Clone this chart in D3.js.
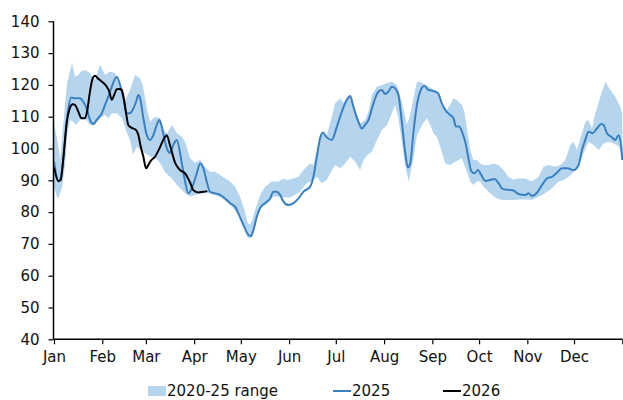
<!DOCTYPE html>
<html>
<head>
<meta charset="utf-8">
<script src="https://cdn.jsdelivr.net/npm/d3@7"></script>
<style>
  html, body { margin: 0; padding: 0; background: #fff; }
  svg { display: block; font-family: "DejaVu Sans", Verdana, sans-serif; }
</style>
</head>
<body>
<svg id="chart" width="623" height="400"></svg>
<script>
// ---- data (day of year, value) ----
const monthStarts = [0, 31, 59, 90, 120, 151, 181, 212, 243, 273, 304, 334, 365];
const monthLabels = ["Jan","Feb","Mar","Apr","May","Jun","Jul","Aug","Sep","Oct","Nov","Dec",""];
const yTicks = [40, 50, 60, 70, 80, 90, 100, 110, 120, 130, 140];

const rangeUpper = [[0,108],[2,103],[4,96.5],[5.8,106.8],[8.4,120.6],[11.6,126.8],[13.5,122.6],[15.4,123],[18,124.5],[20.6,124.5],[23.1,123.6],[26.3,121.6],[29.6,126.3],[32.8,123.1],[36,124.2],[39.2,123.7],[42.4,119.4],[45.6,115.2],[48.8,118.4],[52,123.1],[55.3,122.1],[57.2,119.4],[59.8,112.1],[61.7,108.4],[64.9,110],[68.1,109.5],[70.7,105.5],[72.6,104.8],[75.8,107.4],[79,104.8],[82.1,103.7],[84.2,102.1],[87.4,97],[90.6,95.5],[93.8,96.5],[96.9,94.3],[100.2,92.7],[103.5,92.7],[106.7,91.7],[109.9,90.6],[113.1,89.6],[116.3,88],[119.5,84.8],[122.3,80.7],[124.5,76.5],[125.9,76],[127.4,77.5],[129.2,80.7],[132.4,85.4],[135.6,88],[139.9,89.6],[144.1,89.6],[147.4,90.6],[149.5,90.1],[153.8,90.6],[157,91.1],[160.2,93.2],[164.5,95.3],[166.6,94.8],[168.8,99.5],[172,104.8],[175.2,104.2],[178.4,110],[180.6,114.2],[183.8,115.8],[185.9,114.2],[188.1,115.8],[190.2,116.8],[193.4,112.1],[196.6,107.9],[199.8,109],[202,111.6],[204.2,116.8],[207.4,119.4],[210.6,120],[213.8,120.5],[217,121],[220.2,120],[223.4,114.7],[226.6,107.4],[228.8,110.5],[230.9,115.8],[233.1,121],[235.2,121],[238.4,120],[242.7,118.9],[245.9,117.4],[249.1,114.2],[252.3,112.1],[254.5,113.7],[256.6,115.8],[258.8,115.2],[262,113.7],[263.6,111.6],[265.2,106.3],[267.3,99.5],[269.4,96.4],[271.6,96.4],[273.7,95.3],[275.9,94.8],[279.1,94.8],[282.3,95.3],[285.5,94.8],[288.7,93.2],[291.9,91.1],[295.1,90.2],[298.3,90.6],[302.7,90.6],[307,89.6],[311.2,91.1],[314.4,94.3],[317.6,94.8],[321.9,94.3],[325.2,94.8],[328.4,96.4],[331.6,101.1],[333.7,102.1],[335.9,99.5],[339.1,104.8],[341.2,108.4],[343.3,109],[345.5,106.3],[347.6,111.1],[350.9,116.3],[354.1,121],[357.3,118.4],[360.5,116.3],[363.7,113.1],[365,111.1]];

const rangeLower = [[0,88],[2,84.5],[2.6,84.3],[5.1,87.5],[7.1,94.8],[8.4,104.2],[10.3,109],[12.2,108.5],[14.1,107.4],[16.7,109],[19.9,109.5],[23.1,107.4],[26.3,107.4],[29.6,109.5],[32.8,110.5],[34.7,109.5],[37.3,111.1],[40.5,111.1],[43.7,109.5],[46.9,104.8],[48.8,102.7],[50.8,98],[53.3,100.6],[55.3,99.5],[58.5,98.5],[61.7,97.5],[64.9,97],[68.1,95.5],[71.3,92.5],[75.6,90.6],[79.9,88],[84.2,85.9],[87.4,84.8],[90.6,85.4],[94.9,85.9],[99.2,85.9],[103.5,85.4],[107.8,84.3],[112,82.8],[115.2,81.2],[118.4,79.1],[121.6,75.4],[124.5,71.8],[126.6,71.8],[129.2,75.4],[131.3,80.1],[133.5,81.7],[137.7,83.3],[140.9,84.8],[145.2,84.8],[151.7,84.5],[158.1,86.5],[162.4,89.1],[166.6,90.1],[168.8,91.1],[172,89.1],[175.2,90.1],[177.4,92.2],[180.6,94.8],[183.8,93.8],[187,95.3],[190.2,97.4],[193.4,95.8],[196.6,93.2],[198.8,96.4],[201.3,98],[204.2,99],[207.4,102.7],[210.6,105.8],[213.8,107.4],[217,111.1],[219.1,113.7],[221.2,109.5],[223.4,102.1],[225.5,94.8],[227.8,89.6],[230.9,96.9],[233.1,104.2],[236.3,107.4],[239.5,109.5],[241.6,107.4],[243.7,104.8],[245.9,103.7],[248,100.6],[251.3,95.3],[254.5,94.8],[257.7,95.8],[262,96.9],[265.2,92.7],[267.3,89.6],[269.4,88.5],[271.6,89.6],[273.7,89.6],[275.9,88],[279.1,86.4],[281.3,85.4],[284.5,84.3],[287.7,83.8],[291.9,83.8],[295.1,83.8],[298.3,84],[302.7,84],[307,83.8],[311.2,84.8],[315.5,85.9],[319.8,87.5],[324.1,89.6],[327.3,90.1],[330.5,91.1],[333.7,92.5],[336.9,94.3],[340.1,98.5],[343.3,102.1],[346.5,101.1],[349.8,99.5],[353,101.6],[356.3,102.1],[359.5,101.6],[362.7,100.6],[365,96.4]];

const series2025 = [[0,95.9],[3,89.6],[5,92.7],[7,102.1],[9,111.6],[11,116.0],[13.5,115.8],[16.7,115.8],[18.8,114.7],[21,112.6],[23.1,109.0],[25.3,107.7],[27.4,109],[30.7,111.1],[32.8,113.7],[34.9,116.3],[37.1,119.4],[40.3,122.6],[42.4,120],[44.5,115.8],[46.7,111.1],[48.8,111.1],[51,112.6],[52.7,114.7],[54.2,116.8],[55.3,115.8],[57.4,109.5],[59.6,104.2],[61.7,102.7],[63.8,104.2],[66,107.4],[67.7,109],[69.2,106.9],[71.3,102.1],[73.4,99],[74.5,98.6],[76.5,101],[78.8,102.7],[82.1,95.3],[84.2,89.6],[86.3,85.9],[88.5,87.5],[91.7,92.2],[93.8,95.3],[95.9,93.8],[98.1,89.6],[100.2,86.4],[103.5,85.9],[106.7,85.4],[109.9,84.3],[113.1,82.8],[116.3,81.7],[118.4,79.6],[121.6,76],[124.9,72.8],[126.6,72.5],[128.1,74.4],[130.3,78.6],[132.4,81.3],[135.6,82.8],[138.8,84.3],[140.9,86.4],[143.1,86.4],[145.2,85.4],[147.4,83.3],[150.6,82.2],[153.8,82.8],[157,84.3],[160.2,86.4],[164.5,88.0],[166.6,91.1],[168.8,97.4],[170.9,103.2],[172.7,105],[175.2,103.5],[178.4,102.7],[181.7,106.9],[184.9,111.6],[188.1,115.3],[190.2,116.5],[192.3,113.1],[195.5,108.4],[197.7,106.3],[199.8,107.4],[202,109],[204.2,112.6],[206.3,115.8],[208.4,117.9],[210.6,118.4],[212.7,117.1],[214.8,117.9],[217,119.4],[219.1,118.9],[221.2,116.8],[223.4,108.4],[225.5,99],[227.3,94],[228.8,95.3],[230.9,105.3],[233.1,113.7],[235.2,117.9],[238,119.7],[240.5,118.4],[243.7,118.1],[246.6,117.4],[249.1,114.2],[251.3,112.1],[254.5,110.5],[256.6,109.5],[258.1,106.9],[260.2,106.9],[262,105.3],[264.1,102.1],[266.2,96.9],[268,92.9],[270.1,92.2],[272.3,93.2],[274.4,91.7],[277,89.8],[280.2,90.1],[282.9,90.4],[285.5,89.1],[288.1,87.3],[291.9,87],[295.1,86.8],[298.3,85.7],[302.7,85.4],[304.8,85.9],[307,85.1],[310.2,86.1],[313.4,88.5],[316.6,90.6],[319.8,91.1],[323,92.4],[326.2,93.8],[329.5,93.8],[333.7,93.2],[336.9,94.8],[339.1,99.5],[341.2,102.7],[343.3,105.3],[345.9,104.8],[348.7,106.3],[351.5,107.7],[353,107.4],[355.1,104.8],[357.9,103.7],[360.5,102.7],[362.6,104.2],[364.3,100.6],[365,96.4]];

const series2026 = [[0,94],[2.8,89.8],[4.3,90.1],[6,96.9],[8.2,108.4],[9.8,112.1],[12,113.9],[13.5,113.7],[15.6,111.6],[17.8,109.5],[19.9,109.5],[21.4,112.1],[23.1,117.9],[24.9,122.1],[26.3,122.9],[28.5,121.9],[31.3,120.8],[33.9,119.4],[35.5,117.9],[37.1,115.3],[38.6,116.8],[40.3,118.6],[42.4,118.7],[43.5,118.4],[45,115.3],[46.3,111.1],[47.7,107.4],[49.9,106.5],[52.7,105.8],[54.2,104.2],[55.7,100.6],[57.4,97.4],[59.1,93.8],[60.6,94.8],[62.1,96.1],[64.9,97.4],[67.7,100],[70.2,102.7],[72.4,104.2],[74.5,101],[77.8,95.5],[81,93.2],[84.2,92.2],[87.4,89.3],[89.5,86.9],[92.7,86.2],[95.9,86.4],[98.5,86.6]];

const legendLabels = ["2020-25 range", "2025", "2026"];

// ---- layout ----
(function () {
const svg = d3.select("#chart");
const plotLeft = 53.5, plotRight = 622.3, plotTop = 21.3, plotBottom = 339.3;
const x = d3.scaleLinear().domain([0, 365]).range([54, plotRight]);
const y = d3.scaleLinear().domain([40, 140]).range([plotBottom, plotTop]);

const bandColor = "#b5d5ef";
const lineColor = "#3a80c0";

const line = d3.line().x(d => x(d[0])).y(d => y(d[1]));

// range band as closed polygon
svg.append("path")
  .attr("d", line(rangeUpper.concat(rangeLower.slice().reverse())) + "Z")
  .attr("fill", bandColor)
  .attr("stroke", "none");

svg.append("path")
  .attr("d", d3.line().x(d => x(d[0])).y(d => y(d[1])).curve(d3.curveMonotoneX)(series2025))
  .attr("fill", "none").attr("stroke", lineColor).attr("stroke-width", 2)
  .attr("stroke-linejoin", "round");

svg.append("path")
  .attr("d", d3.line().x(d => x(d[0])).y(d => y(d[1])).curve(d3.curveMonotoneX)(series2026))
  .attr("fill", "none").attr("stroke", "#000").attr("stroke-width", 2)
  .attr("stroke-linejoin", "round");

// axes
const yAxis = svg.append("g")
  .attr("transform", `translate(${plotLeft},0)`)
  .call(d3.axisLeft(y).tickValues(yTicks).tickSize(5).tickPadding(9).tickFormat(d3.format("d")));
const xAxis = svg.append("g")
  .attr("transform", `translate(0,${plotBottom})`)
  .call(d3.axisBottom(x).tickValues(monthStarts).tickSize(5).tickPadding(7)
        .tickFormat((d, i) => monthLabels[i]));

[yAxis, xAxis].forEach(g => {
  g.select(".domain").attr("stroke", "#000").attr("stroke-width", 1.5);
  g.selectAll(".tick line").attr("stroke", "#000").attr("stroke-width", 1.2);
  g.selectAll(".tick text").attr("fill", "#111").style("font-size", "15px")
    .style("font-family", '"DejaVu Sans", Verdana, sans-serif');
});
yAxis.select(".domain").attr("d", `M0,${plotTop}V${plotBottom}`);
xAxis.select(".domain").attr("d", `M${plotLeft},0H${plotRight}`);

// legend
const lg = svg.append("g").style("font-size", "15px").attr("fill", "#111");
lg.append("rect").attr("x", 148).attr("y", 386).attr("width", 18).attr("height", 10).attr("fill", bandColor);
lg.append("text").attr("x", 167).attr("y", 391).attr("dy", "0.35em").text(legendLabels[0]);
lg.append("line").attr("x1", 333).attr("x2", 351).attr("y1", 391).attr("y2", 391)
  .attr("stroke", lineColor).attr("stroke-width", 2);
lg.append("text").attr("x", 352).attr("y", 391).attr("dy", "0.35em").text(legendLabels[1]);
lg.append("line").attr("x1", 443).attr("x2", 461).attr("y1", 391).attr("y2", 391)
  .attr("stroke", "#000").attr("stroke-width", 2);
lg.append("text").attr("x", 462).attr("y", 391).attr("dy", "0.35em").text(legendLabels[2]);
})();
</script>
</body>
</html>
